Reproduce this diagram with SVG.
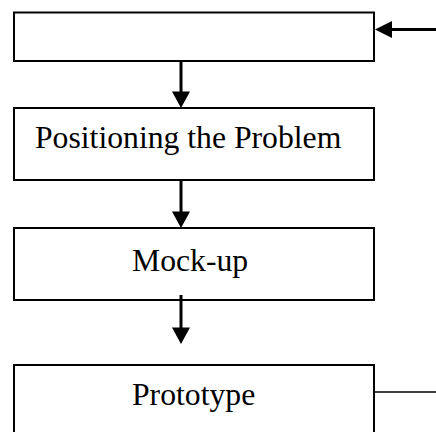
<svg xmlns="http://www.w3.org/2000/svg" width="436" height="432" viewBox="0 0 436 432">
<defs>
<style>
.box{fill:#fff;stroke:#000;stroke-width:2}
.lbl{font-family:"Liberation Serif","Times New Roman",serif;font-size:31.7px;fill:#000}
.arr{stroke:#000;stroke-width:3;fill:none}
.thin{stroke:#000;stroke-width:1.5;fill:none}
.head{fill:#000}
</style>
</defs>
<rect width="436" height="432" fill="#fff"/>
<g id="node-top">
<rect class="box" x="14" y="12.5" width="360" height="48.5"/>
</g>
<g id="node-positioning">
<rect class="box" x="14" y="108" width="360" height="72"/>
<text class="lbl" x="35" y="148">Positioning the Problem</text>
</g>
<g id="node-mockup">
<rect class="box" x="14" y="228" width="360" height="72"/>
<text class="lbl" x="132" y="271">Mock-up</text>
</g>
<g id="node-prototype">
<path class="box" d="M14,433 V365 H374 V433"/>
<text class="lbl" x="132" y="405">Prototype</text>
</g>
<g id="connectors">
<line class="arr" x1="436" y1="29.5" x2="390" y2="29.5"/>
<polygon class="head" points="375,29.5 392,21 392,38"/>
<line class="arr" x1="181" y1="60" x2="181" y2="93"/>
<polygon class="head" points="172,91.5 190,91.5 181,108"/>
<line class="arr" x1="181" y1="179" x2="181" y2="213"/>
<polygon class="head" points="172,211.5 190,211.5 181,228"/>
<line class="arr" x1="181" y1="295" x2="181" y2="329"/>
<polygon class="head" points="172,327.5 190,327.5 181,344"/>
<line class="thin" x1="374" y1="392" x2="436" y2="392"/>
</g>
</svg>
